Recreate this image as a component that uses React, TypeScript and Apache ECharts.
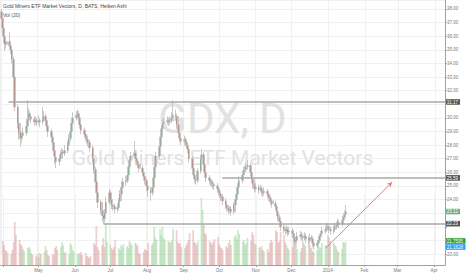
import React, { useEffect, useRef } from "react";
import * as echarts from "echarts";

// Heiken Ashi closes (one per session, starting on firstSession)
const closes = [
  37.3, 36.6, 36.0, 35.4, 35.6, 35.3, 35.0, 34.3, 33.0, 30.8,
  29.6, 28.9, 28.5, 28.7, 28.9, 29.4, 29.9, 30.3, 30.1, 29.9,
  29.7, 29.8, 29.7, 29.8, 29.7, 29.9, 30.1, 29.8, 29.4, 29.0,
  28.6, 28.2, 27.6, 27.1, 26.8, 27.0, 27.3, 27.5, 27.4, 27.6,
  28.0, 28.5, 29.0, 29.6, 30.0, 30.2, 30.3, 30.0, 29.5, 29.1,
  28.8, 28.6, 28.4, 28.2, 27.8, 27.0, 26.2, 25.3, 24.5, 23.8,
  23.2, 22.8, 22.6, 23.0, 23.8, 24.5, 24.0, 23.6, 23.5, 23.3,
  23.4, 23.9, 24.4, 24.9, 25.3, 25.4, 25.8, 26.4, 26.9, 27.2,
  27.4, 27.0, 26.8, 26.6, 26.3, 26.0, 25.7, 25.4, 25.0, 24.7,
  24.5, 24.9, 25.6, 26.4, 27.2, 27.9, 28.6, 29.2, 29.6, 29.7,
  29.8, 29.7, 29.8, 30.0, 30.2, 30.1, 29.5, 28.9, 28.5, 28.3,
  28.4, 28.2, 28.0, 27.7, 27.0, 26.3, 25.8, 25.5, 25.4, 26.1,
  27.0, 27.3, 26.6, 26.0, 25.6, 25.4, 25.3, 25.2, 25.1, 25.0,
  24.8, 24.6, 24.4, 24.2, 23.9, 23.6, 23.4, 23.2, 23.3, 23.1,
  23.6, 24.0, 24.4, 24.9, 25.4, 25.8, 26.1, 26.2, 26.4, 26.5,
  26.0, 25.5, 25.1, 24.8, 24.9, 24.7, 24.8, 24.6, 24.5, 24.6,
  24.4, 24.2, 24.1, 23.9, 23.7, 23.5, 23.1, 22.7, 22.4, 22.0,
  21.8, 21.7, 21.8, 21.6, 21.7, 21.5, 21.2, 20.9, 21.0, 21.3,
  21.4, 21.3, 21.2, 21.3, 21.1, 21.0, 21.2, 21.1, 20.8, 20.6,
  20.8, 21.0, 21.3, 21.5, 21.7, 21.8, 21.9, 22.0, 21.8, 21.7,
  21.8, 22.0, 22.1, 22.3, 22.2, 22.5, 22.7, 22.9, 23.1,
];
const firstOpen = 37.8;

const highs = [
  38.0, 37.5, 36.9, 36.2, 36.0, 36.3, 35.6, 35.2, 34.5, 33.2,
  31.0, 29.9, 29.2, 29.0, 29.3, 29.8, 31.3, 30.7, 30.5, 30.3,
  30.1, 30.1, 30.0, 30.2, 30.0, 30.8, 30.5, 30.3, 30.0, 29.6,
  29.2, 28.8, 28.4, 27.8, 27.4, 27.3, 27.6, 27.8, 27.7, 28.0,
  28.3, 28.8, 29.3, 30.0, 30.4, 30.5, 30.6, 30.5, 30.2, 29.7,
  29.3, 29.0, 28.8, 28.7, 28.4, 28.0, 27.2, 26.4, 25.5, 24.7,
  24.0, 23.4, 23.0, 23.3, 24.2, 24.8, 24.7, 24.2, 23.8, 23.7,
  23.7, 24.1, 24.7, 25.3, 25.6, 25.7, 26.0, 26.7, 27.2, 27.5,
  28.3, 27.6, 27.2, 27.0, 26.8, 26.5, 26.2, 25.9, 25.6, 25.2,
  24.9, 25.2, 25.9, 26.7, 27.5, 28.2, 28.9, 29.5, 29.9, 30.0,
  30.1, 30.0, 30.1, 30.4, 31.3, 30.6, 30.3, 29.7, 29.1, 28.7,
  28.7, 28.6, 28.4, 28.2, 27.9, 27.2, 26.5, 26.0, 25.7, 26.3,
  27.3, 27.7, 27.5, 26.8, 26.2, 25.8, 25.6, 25.5, 25.4, 25.3,
  25.2, 25.0, 24.8, 24.6, 24.4, 24.1, 23.8, 23.6, 23.5, 23.5,
  23.8, 24.3, 24.7, 25.2, 25.7, 26.1, 26.4, 26.5, 26.7, 26.9,
  26.7, 26.2, 25.7, 25.3, 25.2, 25.1, 25.1, 25.0, 24.8, 24.9,
  24.8, 24.6, 24.4, 24.3, 24.1, 23.9, 23.7, 23.3, 22.9, 22.6,
  22.2, 22.0, 22.1, 22.0, 22.0, 21.9, 21.7, 21.4, 21.3, 21.6,
  21.7, 21.6, 21.5, 21.6, 21.5, 21.3, 21.5, 21.4, 21.3, 21.0,
  21.0, 21.2, 21.5, 21.7, 22.0, 22.1, 22.2, 22.3, 22.2, 22.0,
  22.1, 22.3, 22.4, 22.6, 22.5, 22.8, 23.0, 23.2, 23.6,
];

const lows = [
  37.0, 36.2, 35.5, 34.9, 35.1, 35.0, 34.7, 34.0, 32.8, 30.5,
  29.2, 28.4, 27.9, 28.2, 28.5, 28.7, 29.2, 29.7, 29.8, 29.6,
  29.4, 29.5, 29.4, 29.5, 29.3, 29.5, 29.7, 29.5, 29.1, 28.6,
  28.2, 27.8, 27.2, 26.6, 26.3, 26.5, 26.8, 27.1, 27.0, 27.2,
  27.4, 27.8, 28.3, 28.8, 29.4, 29.8, 29.9, 29.7, 29.2, 28.8,
  28.5, 28.3, 28.1, 27.9, 27.5, 26.7, 25.9, 25.0, 24.1, 23.4,
  22.9, 22.4, 22.2, 22.3, 22.8, 23.6, 23.7, 23.3, 23.2, 23.0,
  23.1, 23.2, 23.7, 24.2, 24.7, 25.0, 25.2, 25.6, 26.2, 26.7,
  27.0, 26.8, 26.5, 26.3, 26.0, 25.7, 25.4, 25.1, 24.6, 24.2,
  23.9, 24.3, 24.7, 25.4, 26.2, 27.0, 27.7, 28.4, 29.0, 29.4,
  29.5, 29.4, 29.5, 29.6, 29.8, 29.8, 29.2, 28.6, 28.2, 28.0,
  28.0, 27.9, 27.7, 27.4, 26.7, 26.0, 25.5, 25.2, 25.1, 25.2,
  25.9, 26.8, 26.3, 25.7, 25.3, 25.1, 25.0, 24.9, 24.8, 24.7,
  24.5, 24.3, 24.1, 23.9, 23.6, 23.3, 23.1, 22.9, 23.0, 22.8,
  22.9, 23.4, 23.8, 24.2, 24.7, 25.2, 25.6, 25.9, 26.0, 26.2,
  25.7, 25.2, 24.8, 24.5, 24.6, 24.4, 24.5, 24.3, 24.2, 24.3,
  24.1, 23.9, 23.8, 23.6, 23.4, 23.2, 22.8, 22.4, 22.1, 21.7,
  21.5, 21.4, 21.5, 21.3, 21.4, 21.2, 20.9, 20.6, 20.7, 20.8,
  21.1, 21.0, 20.9, 21.0, 20.8, 20.7, 20.8, 20.8, 20.5, 20.3,
  20.4, 20.6, 20.8, 21.1, 21.3, 21.5, 21.6, 21.7, 21.5, 21.4,
  21.5, 21.6, 21.8, 21.9, 21.9, 22.0, 22.3, 22.5, 22.7,
];

// Volume in millions
const volumes = [
  48, 40, 30, 28, 24, 22, 30, 46, 86, 60,
  50, 42, 38, 32, 28, 34, 36, 32, 24, 20,
  18, 22, 16, 24, 22, 26, 38, 30, 20, 18,
  22, 20, 34, 38, 30, 36, 46, 40, 24, 26,
  22, 44, 40, 30, 26, 22, 24, 22, 26, 20,
  24, 18, 16, 14, 18, 44, 40, 78, 36, 30,
  40, 54, 36, 84, 46, 40, 34, 30, 36, 50,
  34, 30, 40, 36, 42, 38, 34, 48, 44, 40,
  44, 42, 38, 24, 22, 26, 32, 30, 28, 44,
  40, 44, 76, 56, 50, 72, 60, 76, 54, 50,
  48, 46, 44, 50, 72, 70, 46, 42, 44, 36,
  34, 38, 44, 50, 64, 70, 46, 44, 40, 48,
  134, 110, 80, 64, 60, 48, 44, 40, 46, 52,
  56, 42, 36, 34, 30, 38, 34, 44, 50, 40,
  56, 60, 52, 70, 62, 46, 50, 40, 44, 54,
  48, 66, 60, 44, 40, 36, 34, 38, 30, 28,
  32, 26, 44, 50, 46, 70, 66, 44, 48, 66,
  60, 46, 40, 34, 30, 36, 56, 54, 46, 32,
  28, 34, 46, 42, 38, 46, 40, 34, 28, 26,
  30, 40, 36, 34, 44, 40, 38, 60, 56, 48,
  44, 40, 36, 30, 26, 32, 46, 44, 46,
];

const firstSession = "2013-04-01";
const axisStart = "2013-03-30T19:00";
const axisEnd = "2014-04-09T12:00";
const firstMonthLabel = "2013-05-01";
const monthNames = ["Jan", "Feb", "Mar", "Apr", "May", "Jun", "Jul", "Aug", "Sep", "Oct", "Nov", "Dec"];

const levelValues = [31.17, 25.59, 22.23];
const levelStartDates = ["2013-04-07", "2013-10-04", "2013-06-26"];
const trendDates = ["2013-12-30", "2014-02-24"];
const trendValues = [20.43, 25.28];

const priceTagValues = [31.17, 25.59, 23.12, 22.23];
const priceTagTexts = ["31.17", "25.59", "23.12", "22.23"];
const volumeTagValues = [48, 36];
const volumeTagTexts = ["21.7595", "21.1628"];

const titleText = "Gold Miners ETF Market Vectors, D, BATS, Heiken Ashi";
const volText = "Vol (20)";
const watermarkMain = "GDX, D";
const watermarkSub = "Gold Miners ETF Market Vectors";

function toTime(s: string): number {
  const [datePart, timePart] = s.split("T");
  const [y, m, d] = datePart.split("-").map(Number);
  let hh = 0, mm = 0;
  if (timePart) [hh, mm] = timePart.split(":").map(Number);
  return new Date(y, m - 1, d, hh, mm).getTime();
}

function sessionDates(n: number): number[] {
  const out: number[] = [];
  const d = new Date(toTime(firstSession));
  while (out.length < n) {
    const wd = d.getDay();
    if (wd !== 0 && wd !== 6) out.push(d.getTime());
    d.setDate(d.getDate() + 1);
  }
  return out;
}

const FONT = "'Liberation Sans', Arial, sans-serif";
const UP = "#3f8a5a";
const DOWN = "#a2443a";

export default function App() {
  const ref = useRef<HTMLDivElement>(null);
  useEffect(() => {
    document.body.style.margin = "0";
    if (!ref.current) return;
    const chart = echarts.init(ref.current, null, { renderer: "svg" });
    const dates = sessionDates(closes.length);
    const opens = closes.map((c, i) => (i === 0 ? firstOpen : closes[i - 1]));
    const full = closes.map((c, i) => [dates[i], opens[i], c, Math.min(lows[i], opens[i], c), Math.max(highs[i], opens[i], c)]);
    const bodies = closes.map((c, i) => [dates[i], opens[i], c, Math.min(opens[i], c), Math.max(opens[i], c)]);
    const vols = volumes.map((v, i) => ({
      value: [dates[i], v],
      itemStyle: { color: closes[i] >= opens[i] ? "rgba(150,210,150,0.48)" : "rgba(215,150,150,0.45)" },
    }));
    const xMin = toTime(axisStart);
    const xMax = toTime(axisEnd);
    const firstLabelTime = toTime(firstMonthLabel);

    const markData: any[] = levelValues.map((v, i) => [
      { coord: [toTime(levelStartDates[i]), v], symbol: "none", lineStyle: { color: "#a9a9a9", width: 1.6, type: "solid" } },
      { coord: [xMax, v], symbol: "none" },
    ]);
    markData.push([
      { coord: [toTime(trendDates[0]), trendValues[0]], symbol: "none", lineStyle: { color: "#f07a7a", width: 1, type: "solid" } },
      { coord: [toTime(trendDates[1]), trendValues[1]], symbol: "arrow", symbolSize: [4, 5] },
    ]);

    const xLabel = (val: number) => {
      if (val < firstLabelTime) return "";
      const d = new Date(val);
      return d.getMonth() === 0 ? String(d.getFullYear()) : monthNames[d.getMonth()];
    };
    const month = 864e5 * 28;
    const monthMax = 864e5 * 31;

    let tagYs: number[] = [];
    const yLabel = (v: number) => {
      const y = chart.convertToPixel({ yAxisIndex: 0 }, v) as number;
      if (tagYs.some((ty) => Math.abs(ty - y) < 5)) return "";
      return v.toFixed(2);
    };

    const baseOption = {
      animation: false,
      textStyle: { fontFamily: FONT },
      grid: [
        { left: 0, right: 21, top: 0, bottom: 21 },
        { left: 0, right: 21, top: 195, bottom: 10 },
      ],
      xAxis: [
        {
          type: "time", gridIndex: 0, min: xMin, max: xMax, minInterval: month, maxInterval: monthMax,
          axisLine: { show: false }, axisTick: { show: false }, axisLabel: { show: false },
          splitLine: { show: true, lineStyle: { color: "#f1f1f1", width: 1 } },
        },
        {
          type: "time", gridIndex: 1, min: xMin, max: xMax, minInterval: month, maxInterval: monthMax,
          axisLine: { show: true, lineStyle: { color: "#a0a0a0", width: 1 } },
          axisTick: { show: true, length: 2, lineStyle: { color: "#a0a0a0" } },
          axisLabel: {
            show: true, formatter: xLabel, fontSize: 4.5, color: "#777", margin: 3,
            showMinLabel: false, showMaxLabel: false, fontFamily: FONT,
          },
          splitLine: { show: true, lineStyle: { color: "#f1f1f1", width: 1 } },
        },
      ],
      yAxis: [
        {
          type: "value", gridIndex: 0, position: "right", min: 20, max: 38.66, interval: 1,
          axisLine: { show: true, lineStyle: { color: "#a0a0a0", width: 1 } },
          axisTick: { show: true, length: 2, lineStyle: { color: "#a0a0a0" } },
          axisLabel: {
            show: true, formatter: yLabel, fontSize: 4.5, color: "#777", margin: 2,
            showMaxLabel: false, fontFamily: FONT,
          },
          splitLine: { show: true, lineStyle: { color: "#f1f1f1", width: 1 } },
        },
        {
          type: "value", gridIndex: 1, position: "right", min: 0, max: 140,
          axisLine: { show: true, lineStyle: { color: "#a0a0a0", width: 1 } },
          axisTick: { show: false }, axisLabel: { show: false }, splitLine: { show: false },
        },
      ],
      series: [
        {
          type: "bar", xAxisIndex: 1, yAxisIndex: 1, data: vols, barWidth: 1.7, silent: true, z: 1,
        },
        {
          type: "candlestick", xAxisIndex: 0, yAxisIndex: 0, data: full, barWidth: 2.2, silent: true, z: 2,
          itemStyle: { color: "#c8c8c8", color0: "#c8c8c8", borderColor: "#c8c8c8", borderColor0: "#c8c8c8", borderWidth: 1 },
        },
        {
          type: "candlestick", xAxisIndex: 0, yAxisIndex: 0, data: bodies, barWidth: 1.3, silent: true, z: 3,
          itemStyle: { color: UP, color0: DOWN, borderColor: UP, borderColor0: DOWN, borderWidth: 0.4 },
          markLine: { silent: true, animation: false, symbol: ["none", "none"], label: { show: false }, data: markData },
        },
      ],
    };
    chart.setOption(baseOption);

    const priceYs = priceTagValues.map((v) => chart.convertToPixel({ yAxisIndex: 0 }, v) as number);
    const volYs = volumeTagValues.map((v) => chart.convertToPixel({ yAxisIndex: 1 }, v) as number);
    tagYs = [...priceYs, ...volYs];

    const rightX = chart.getWidth() - 21 + 0.5;
    const tag = (y: number, text: string, fill: string, w: number) => ({
      type: "group", x: rightX, y: y - 2.8, z: 100,
      children: [
        { type: "rect", shape: { x: 0, y: 0, width: w, height: 5.6 }, style: { fill } },
        { type: "text", x: 1.2, y: 2.9, style: { text, fill: "#fff", fontSize: 4.5, fontFamily: FONT, verticalAlign: "middle", textAlign: "left" } },
      ],
    });
    const tagColors = ["#555555", "#555555", "#78aa84", "#555555"];
    const priceTags = priceYs.map((y, i) => tag(y, priceTagTexts[i], tagColors[i], 14.5));
    const volColors = ["#2e9e2e", "#2a9df4"];
    const volTags = volYs.map((y, i) => tag(y, volumeTagTexts[i], volColors[i], 20));
    const plotCenter = (chart.getWidth() - 21) / 2;
    chart.setOption({
      yAxis: [{ axisLabel: { formatter: yLabel } }, {}],
      graphic: [
        { type: "text", x: plotCenter, y: 118, z: 0, silent: true, style: { text: watermarkMain, fill: "#e2e2e2", fontSize: 42, fontFamily: "Roboto, " + FONT, textAlign: "center", verticalAlign: "middle" } },
        { type: "text", x: plotCenter, y: 158, z: 0, silent: true, style: { text: watermarkSub, fill: "#e2e2e2", fontSize: 21, fontFamily: "Roboto, " + FONT, textAlign: "center", verticalAlign: "middle" } },
        { type: "text", x: 3, y: 6, z: 50, style: { text: titleText, fill: "#444", fontSize: 5, fontFamily: FONT, verticalAlign: "middle" } },
        { type: "text", x: 3, y: 14.5, z: 50, style: { text: volText, fill: "#555", fontSize: 5, fontFamily: FONT, verticalAlign: "middle" } },
        ...priceTags,
        ...volTags,
      ],
    });
    return () => chart.dispose();
  }, []);
  return <div ref={ref} style={{ width: 466, height: 275 }} />;
}
